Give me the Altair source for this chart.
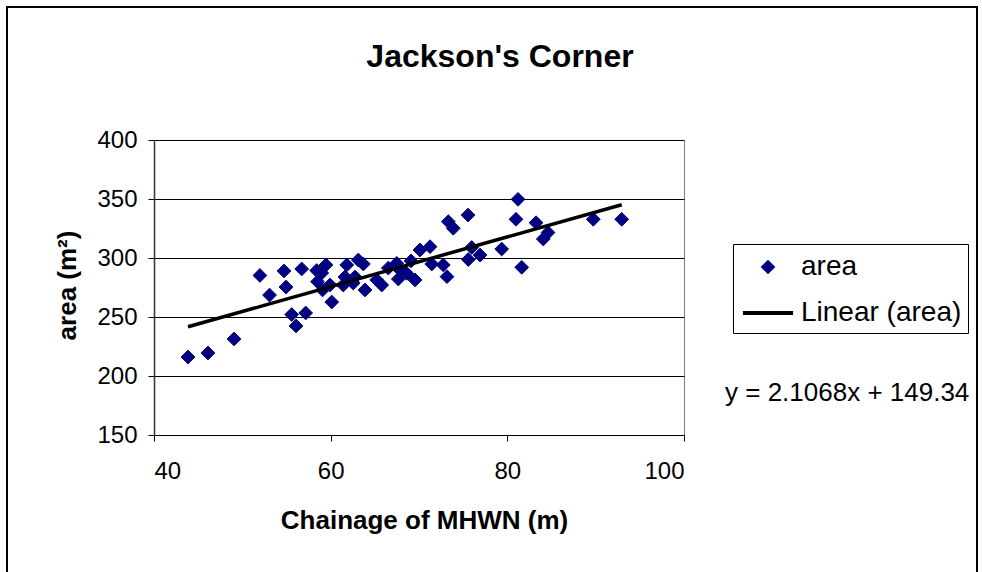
import altair as alt
import pandas as pd

FONT = "Liberation Sans"

# Scatter data
x_vals = [43.85, 46.11, 49.06, 51.99, 53.08, 54.72, 54.94, 55.59, 56.08, 56.72,
          57.17, 58.42, 59.47, 58.99, 58.51, 59.08, 59.92, 60.12, 61.82, 61.62,
          61.43, 63.13, 63.70, 62.76, 62.56, 63.89, 65.21, 65.78, 66.53, 67.48,
          67.85, 67.66, 68.61, 69.10, 69.55, 70.11, 71.25, 71.44, 72.75, 73.17,
          73.32, 73.88, 75.55, 75.58, 75.97, 76.91, 79.36, 81.21, 80.98, 81.63,
          83.25, 84.07, 84.61, 89.73, 92.95]
y_vals = [216.1, 219.5, 231.4, 285.2, 268.6, 289.0, 275.4, 252.1, 242.4, 290.7,
          253.4, 289.4, 294.1, 287.3, 279.9, 272.9, 277.1, 262.7, 294.1, 283.9,
          277.1, 298.3, 294.9, 283.9, 278.8, 272.9, 281.4, 277.1, 291.5, 295.5,
          289.8, 282.2, 287.0, 297.5, 281.4, 306.8, 309.6, 294.9, 294.1, 284.2,
          330.8, 325.2, 336.4, 298.7, 308.9, 302.5, 307.6, 349.7, 332.8, 292.1,
          329.9, 316.1, 321.6, 332.8, 332.8]

series_names = ["area", "Linear (area)"]
series_colors = ["#000080", "#000000"]

# Trend line as printed on the chart
slope = 2.1068
intercept = 149.34
trend_x = [43.85, 92.95]
equation = "y = 2.1068x + 149.34"
title_text = "Jackson's Corner"

x_ticks = [40, 60, 80, 100]
y_ticks = [150, 200, 250, 300, 350, 400]

pts = pd.DataFrame({"x": x_vals, "y": y_vals, "series": series_names[0]})
trend = pd.DataFrame({"x": trend_x, "series": series_names[1]})

diamond_path = "M-0.3,0L0,-0.3L0.3,0L0,0.3Z"
stroke_path = "M-1.67,0L1.67,0"

legend = alt.Legend(
    title=None, orient="none", legendX=579, legendY=104,
    padding=6, strokeColor="black", fillColor="white",
    symbolSize=900, symbolStrokeWidth=4, symbolOffset=12,
    symbolFillColor="#000080",
    rowPadding=15, labelOffset=16,
    labelFont=FONT, labelFontSize=28, labelColor="black", labelLimit=400,
)

color = alt.Color("series:N",
                  scale=alt.Scale(domain=series_names, range=series_colors),
                  legend=legend)
shape = alt.Shape("series:N",
                  scale=alt.Scale(domain=series_names, range=[diamond_path, stroke_path]),
                  legend=legend)

xenc = alt.X("x:Q", scale=alt.Scale(domain=[40, 100], nice=False, zero=False),
             axis=alt.Axis(values=x_ticks, title="Chainage of MHWN (m)", grid=False,
                           tickSize=6, tickColor="black", domainColor="black",
                           labelFont=FONT, labelFontSize=24, labelColor="black",
                           labelPadding=18, titleFont=FONT, titleFontSize=26,
                           titleFontWeight="bold", titleColor="black",
                           titleX=270, titleY=85, titleBaseline="middle"))
yenc = alt.Y("y:Q", scale=alt.Scale(domain=[150, 400], nice=False, zero=False),
             axis=alt.Axis(values=y_ticks, title="area (m²)", grid=True,
                           gridColor="black", gridWidth=1,
                           tickSize=6, tickColor="black", domainColor="#333333",
                           domainWidth=1.5,
                           labelFont=FONT, labelFontSize=24, labelColor="black",
                           labelPadding=11, titleFont=FONT, titleFontSize=26,
                           titleFontWeight="bold", titleColor="black",
                           titleX=-87, titleY=145, titleBaseline="middle",
                           titleAngle=270, titleAlign="center"))

points = alt.Chart(pts).mark_point(
    filled=False, fill="#000080", fillOpacity=1, strokeWidth=1, size=2100, opacity=1
).encode(x=xenc, y=yenc, color=color, shape=shape)

line = alt.Chart(trend).transform_calculate(
    y=f"{slope} * datum.x + {intercept}"
).mark_line(strokeWidth=3.5).encode(
    x=alt.X("x:Q"), y=alt.Y("y:Q"), color=color)

eq = alt.Chart(pd.DataFrame({"t": [equation]})).mark_text(
    align="left", baseline="middle", font=FONT, fontSize=26, color="black"
).encode(x=alt.value(571), y=alt.value(253), text="t:N")

ttl = alt.Chart(pd.DataFrame({"t": [title_text]})).mark_text(
    align="center", baseline="middle", font=FONT, fontSize=32,
    fontWeight="bold", color="black"
).encode(x=alt.value(346), y=alt.value(-83), text="t:N")

frame = alt.Chart(pd.DataFrame({"k": [0]})).mark_rect(
    fill=None, stroke="black", strokeWidth=2
).encode(x=alt.value(-147), x2=alt.value(823), y=alt.value(-133), y2=alt.value(460))

chart = alt.layer(frame, points, line, eq, ttl).properties(
    width=530, height=295,
    autosize=alt.AutoSizeParams(type="none"),
    padding={"left": 154, "top": 140, "right": 298, "bottom": 137},
    background="white",
).configure_view(stroke="#808080", strokeWidth=1)

chart.save("out.html", embed_options={"renderer": "svg", "actions": False})
